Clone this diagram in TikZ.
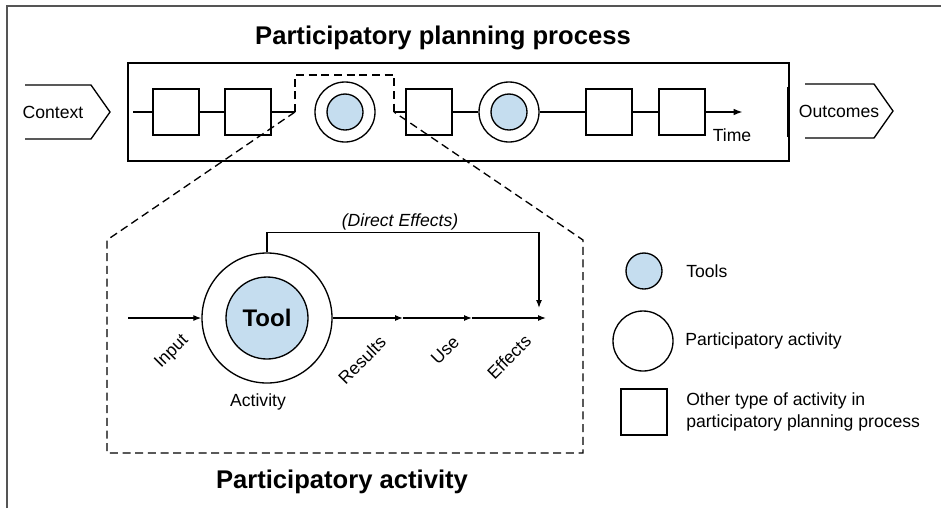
\documentclass[tikz,border=0pt]{standalone}
\usepackage{fontspec}
\setmainfont{Liberation Sans}
\usetikzlibrary{arrows.meta}
\definecolor{toolblue}{HTML}{C5DDEF}
\definecolor{framegray}{HTML}{555555}
\begin{document}
\begin{tikzpicture}[x=0.75pt,y=-0.75pt,
  lbl/.style={font=\fontsize{13.2}{16}\selectfont, inner sep=0pt},
  ttl/.style={font=\fontsize{19.2}{23}\selectfont\bfseries, inner sep=0pt},
  sq/.style={draw, fill=white, line width=1pt, minimum size=34.5pt, inner sep=0pt},
  pcirc/.style={circle, draw, fill=white, line width=1pt, minimum size=45pt, inner sep=0pt},
  tcirc/.style={circle, draw, fill=toolblue, line width=1pt, minimum size=27pt, inner sep=0pt},
  dashline/.style={dash pattern=on 6pt off 3.5pt, line width=1pt},
  arr/.style={-{Latex[length=6pt,width=4.5pt]}, line width=0.9pt},
  tline/.style={line width=1.4pt},
  chevron/.style={line width=1pt}]
\useasboundingbox (0,0) rectangle (941,508);
% outer frame (only top and left visible)
\coordinate (fbl) at (7,508);
\coordinate (ftl) at (7,6);
\coordinate (ftr) at (941,6);
\draw[framegray, line width=1.3pt] (fbl) -- (ftl) -- (ftr);

% title
\node[ttl] (title) at (443,38) {Participatory planning process};

% process box
\draw[line width=1pt] (128,63) rectangle (789,161);
\draw[line width=1.8pt] (128,85) -- (128,137);
\draw[line width=1.8pt] (788,87) -- (788,137);

% context / outcomes chevrons
\draw[chevron] (25,85) -- (91,85) -- (110,112) -- (91,139) -- (25,139);
\node[lbl] (context) at (53,112) {Context};
\draw[chevron] (805,84) -- (874,84) -- (893,111) -- (874,138) -- (805,138);
\node[lbl] (outcomes) at (839,111) {Outcomes};

% timeline nodes
\node[sq] (sq1) at (176,112) {};
\node[sq] (sq2) at (248,112) {};
\node[pcirc] (c1) at (345,112) {};
\node[tcirc] (t1) at (345,112) {};
\node[sq] (sq3) at (429,112) {};
\node[pcirc] (c2) at (509,112) {};
\node[tcirc] (t2) at (509,112) {};
\node[sq] (sq4) at (609,112) {};
\node[sq] (sq5) at (682,112) {};
\coordinate (tl0) at (133,112);
\coordinate (bl) at (295,112);
\coordinate (br) at (394,112);
\coordinate (tlend) at (743,112);
\draw[tline] (tl0) -- (sq1.west);
\draw[tline] (sq1.east) -- (sq2.west);
\draw[tline] (sq2.east) -- (bl);
\draw[tline] (br) -- (sq3.west);
\draw[tline] (sq3.east) -- (c2.west);
\draw[tline] (c2.east) -- (sq4.west);
\draw[tline] (sq4.east) -- (sq5.west);
\draw[tline, -{Latex[length=7pt,width=5pt]}] (sq5.east) -- (tlend);
\node[lbl] (time) at (732,135) {Time};

% dashed zoom bracket
\coordinate (blt) at (295,75);
\coordinate (brt) at (394,75);
\coordinate (zl) at (107,240);
\coordinate (zr) at (583,240);
\coordinate (zbl) at (107,453);
\coordinate (zbr) at (583,453);
\draw[dashline] (bl) -- (blt) -- (brt) -- (br);
\draw[dashline] (bl) -- (zl) -- (zbl) -- (zbr) -- (zr) -- (br);

% inner diagram
\node[circle, draw, fill=white, line width=1pt, minimum size=97.5pt, inner sep=0pt] (act) at (267,318) {};
\node[circle, draw, fill=toolblue, line width=1pt, minimum size=61.5pt, inner sep=0pt,
      font=\fontsize{18}{22}\selectfont\bfseries] (tool) at (267,318) {Tool};
\coordinate (in0) at (128,318);
\coordinate (r1) at (403,318);
\coordinate (r2) at (472,318);
\coordinate (r3) at (546,318);
\coordinate (deend) at (539,308);
\draw[arr] (in0) -- (act.west);
\draw[arr] (act.east) -- (r1);
\draw[arr] (r1) -- (r2);
\draw[arr] (r2) -- (r3);
\draw[arr] (act.north) -- ++(0,-20) -| (deend);
\node[lbl, font=\fontsize{13.2}{16}\selectfont\itshape] (de) at (400,222) {(Direct Effects)};
\node[lbl, rotate=45] (inputl) at (172,352) {Input};
\node[lbl, rotate=45] (resultsl) at (362,360) {Results};
\node[lbl, rotate=45] (usel) at (445,350) {Use};
\node[lbl, rotate=45] (effectsl) at (509,357) {Effects};
\node[lbl] (actl) at (258,402) {Activity};
\node[ttl] (title2) at (342,482) {Participatory activity};

% legend
\node[tcirc] (lg1) at (644,271) {};
\node[lbl, anchor=west] (lg1t) at (686,271) {Tools};
\node[pcirc] (lg2) at (643,341) {};
\node[lbl, anchor=west] (lg2t) at (685,341) {Participatory activity};
\node[sq] (lg3) at (644,412) {};
\node[lbl, anchor=west, align=left, font=\fontsize{13.2}{16.5}\selectfont] (lg3t) at (686,412) {Other type of activity in\\participatory planning process};
\end{tikzpicture}
\end{document}
